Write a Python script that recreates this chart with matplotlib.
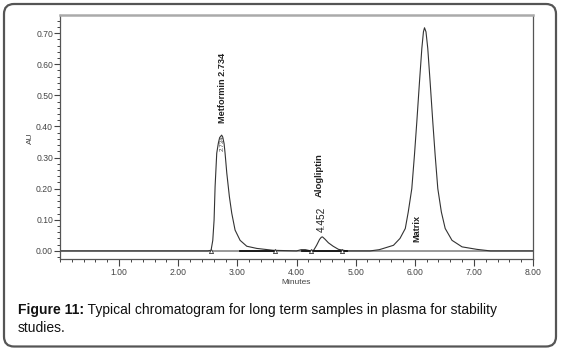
import matplotlib
matplotlib.use("Agg")
import matplotlib.pyplot as plt
from matplotlib.patches import FancyBboxPatch
from matplotlib.ticker import MultipleLocator, FormatStrFormatter

plt.rcParams['font.family'] = ['Liberation Sans', 'DejaVu Sans']

# ------------------------------------------------------------------
# trace (minutes, AU)
# ------------------------------------------------------------------
time_min = [0.00, 2.50, 2.555, 2.584, 2.606, 2.623, 2.651, 2.678, 2.700,
            2.734, 2.752, 2.775, 2.792, 2.821, 2.865, 2.905, 2.961, 3.046,
            3.159, 3.328, 3.604, 4.00, 4.08, 4.15, 4.22, 4.29, 4.34, 4.39,
            4.42, 4.44, 4.48, 4.54, 4.62, 4.71, 4.85, 5.245, 5.40, 5.47,
            5.64, 5.75, 5.84, 5.89, 5.95, 5.995, 6.035, 6.08, 6.12, 6.147,
            6.165, 6.19, 6.22, 6.26, 6.305, 6.345, 6.39, 6.45, 6.515, 6.63,
            6.80, 7.05, 7.28, 8.00]
au = [0.000, 0.000, 0.002, 0.034, 0.099, 0.206, 0.314, 0.346, 0.364,
      0.372, 0.366, 0.345, 0.314, 0.250, 0.174, 0.121, 0.067, 0.034,
      0.015, 0.008, 0.002, 0.000, 0.004, 0.004, 0.001, 0.002, 0.018, 0.037,
      0.044, 0.045, 0.038, 0.026, 0.015, 0.005, 0.000, 0.000, 0.004, 0.008,
      0.018, 0.040, 0.072, 0.125, 0.200, 0.308, 0.415, 0.543, 0.651, 0.704,
      0.717, 0.704, 0.651, 0.543, 0.415, 0.308, 0.200, 0.125, 0.072, 0.034,
      0.013, 0.005, 0.000, 0.000]

# peak start / end markers and integration baselines
marker_t = [2.55, 3.64, 4.25, 4.77]
baseline_segments = [(3.05, 3.64), (4.10, 4.85)]

peak_labels = [
    # text, x, y, size, bold
    ("Metformin 2.734", 2.74, 0.41, 6.6, True),
    ("Alogliptin", 4.38, 0.173, 6.8, True),
    ("4.452", 4.43, 0.060, 7.2, False),
    ("Matrix", 6.035, 0.028, 6.6, True),
]

caption_bold = "Figure 11:"
caption_rest = " Typical chromatogram for long term samples in plasma for stability"
caption_line2 = "studies."

# ------------------------------------------------------------------
fig = plt.figure(figsize=(5.61, 3.51), dpi=100)

# rounded outer frame
frame = FancyBboxPatch((0.04, 0.045), 5.52, 3.425,
                       boxstyle="round,pad=0,rounding_size=0.1",
                       transform=fig.dpi_scale_trans, facecolor='none',
                       edgecolor='#555555', linewidth=1.6, zorder=5)
fig.patches.append(frame)

ax = fig.add_axes([60 / 561, 1 - 259 / 351, 473 / 561, (259 - 15) / 351])
ax.set_facecolor('white')

ax.plot(time_min, au, color='#333333', linewidth=0.8)
ax.axhline(0, color='#888888', linewidth=1.2, zorder=1)
for t0, t1 in baseline_segments:
    ax.plot([t0, t1], [0.001, 0.001], color='#111111', linewidth=1.3)
ax.plot(marker_t, [0.0] * len(marker_t), linestyle='none', marker='^',
        markersize=3, markerfacecolor='white', markeredgecolor='#333333',
        markeredgewidth=0.6)

for text, x, y, size, bold in peak_labels:
    ax.text(x, y, text, rotation=90, ha='center', va='bottom',
            fontsize=size, fontweight='bold' if bold else 'normal',
            color='#222222')
# tiny overlapping retention label on the metformin apex
ax.text(2.74, 0.345, "2.734", rotation=90, ha='center', va='center',
        fontsize=4.5, color='#444444')

ax.set_xlim(0, 8)
ax.set_ylim(-0.026, 0.758)

ax.xaxis.set_major_locator(MultipleLocator(1.0))
ax.xaxis.set_minor_locator(MultipleLocator(0.2))
ax.yaxis.set_major_locator(MultipleLocator(0.1))
ax.yaxis.set_minor_locator(MultipleLocator(0.02))
ax.xaxis.set_major_formatter(FormatStrFormatter('%.2f'))
ax.yaxis.set_major_formatter(FormatStrFormatter('%.2f'))

ax.set_xticks([1, 2, 3, 4, 5, 6, 7, 8])
ax.tick_params(axis='both', which='major', labelsize=6.2, colors='#444444',
               width=0.8, length=4, pad=1)
ax.tick_params(axis='both', which='minor', colors='#444444', width=0.7,
               length=2.5)
ax.tick_params(axis='x', which='major', length=5, pad=1.5)

for side in ['left', 'bottom', 'right']:
    ax.spines[side].set_color('#555555')
    ax.spines[side].set_linewidth(0.9)
ax.spines['top'].set_color('#aaaaaa')
ax.spines['top'].set_linewidth(1.8)

fig.text(30 / 561, 1 - 138 / 351, "AU", rotation=90, ha='center',
         va='center', fontsize=6, color='#444444')
fig.text(296 / 561, 1 - 283 / 351, "Minutes", ha='center', va='center',
         fontsize=6, color='#444444')

# caption with bold lead-in
renderer = fig.canvas.get_renderer()
t_bold = fig.text(18 / 561, 1 - 310 / 351, caption_bold, fontsize=10,
                  fontweight='bold', va='center', ha='left', color='#111111')
bb = t_bold.get_window_extent(renderer=renderer)
fig.text(bb.x1 / fig.bbox.width, 1 - 310 / 351, caption_rest, fontsize=10,
         va='center', ha='left', color='#111111')
fig.text(18 / 561, 1 - 328 / 351, caption_line2, fontsize=10, va='center',
         ha='left', color='#111111')

fig.savefig("out.png", dpi=100)
